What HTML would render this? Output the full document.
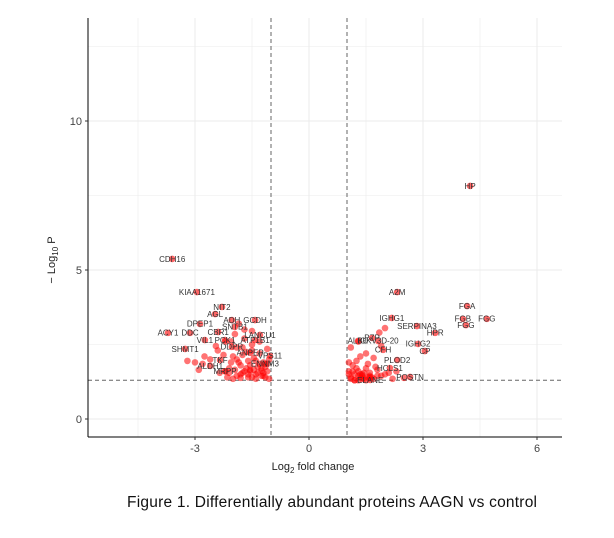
<!DOCTYPE html>
<html><head><meta charset="utf-8"><style>
body{margin:0;background:#fff;width:614px;height:538px;overflow:hidden;font-family:"Liberation Sans",sans-serif}
svg{position:absolute;left:0;top:0}
</style></head><body>
<svg id="chart" width="614" height="538" viewBox="0 0 614 538">
<g id="grid"></g>
<g id="pts"></g>
<g id="lbls"></g>
<g id="axes"></g>
<text x="313" y="470" font-size="11" text-anchor="middle" fill="#222">Log<tspan font-size="8" dy="3">2</tspan><tspan dy="-3"> fold change</tspan></text>
<text transform="translate(55,260) rotate(-90)" font-size="11" text-anchor="middle" fill="#222">− Log<tspan font-size="8" dy="3">10</tspan><tspan dy="-3"> P</tspan></text>
<text x="127" y="507" font-size="15.5" textLength="410" fill="#111">Figure 1. Differentially abundant proteins AAGN vs control</text>
</svg>
<script>
const xTicks=[-3,0,3,6];
const yTicks=[0,5,10];
const labelNames=["CDH16","KIAA1671","NIT2","AGL","ADH","GCDH","DPEP1","SNTB1","ACY1","DDC","CBR1","LANCU1","VIL1","PCK1","ATP1B1","SHMT1","DDPR","ANPEP","VPS11","TKF","ALDH1","ENNM3","MRPP","HP","A2M","FGA","FGB","FGG","FGG","IGHG1","SERPINA3","HPR","PZP","IGKV3D-20","ALBU","IGHG2","CP","CFH","PLOD2","HCLS1","POSTN","ELANE"];
const labelX=[-3.6,-2.95,-2.29,-2.47,-2.03,-1.42,-2.87,-1.95,-3.71,-3.13,-2.39,-1.29,-2.74,-2.21,-1.42,-3.26,-2.03,-1.55,-1.03,-2.34,-2.6,-1.16,-2.21,4.24,2.32,4.16,4.05,4.68,4.13,2.18,2.84,3.32,1.66,1.82,1.29,2.87,3.05,1.95,2.32,2.13,2.66,1.61];
const labelY=[5.37,4.26,3.76,3.52,3.32,3.32,3.19,3.09,2.89,2.89,2.92,2.82,2.65,2.65,2.65,2.35,2.42,2.22,2.12,1.98,1.78,1.85,1.6,7.82,4.26,3.79,3.36,3.36,3.15,3.39,3.12,2.89,2.72,2.62,2.62,2.52,2.28,2.32,1.98,1.71,1.41,1.31];
const extraX=[-3.0,-2.75,-2.4,-2.2,-2.6,-2.9,-2.35,-1.9,-1.7,-1.5,-1.3,-1.2,-1.1,-1.8,-1.6,-2.0,-2.1,-1.4,-1.25,-1.15,-1.9,-1.75,-1.55,-1.35,-1.65,-1.45,-2.25,-2.45,-1.95,-1.05,-1.1,-1.3,-1.5,-1.7,-1.85,-2.05,-1.6,-1.4,-1.2,-2.8,-3.2,-2.15,-1.8,-1.55,-1.25,
-2.1,-1.95,-1.8,-1.65,-1.5,-1.35,-1.2,-1.1,-2.0,-1.85,-1.7,-1.55,-1.4,-1.25,-1.15,-1.9,-1.75,-1.6,-1.45,-1.3,-2.2,-2.05,-1.05,-1.5,-1.75,
1.1,1.2,1.3,1.4,1.5,1.6,1.7,1.8,1.9,2.0,1.15,1.25,1.35,1.45,1.55,1.65,1.75,1.05,1.1,1.3,1.5,1.7,1.9,2.1,2.3,1.2,1.4,1.6,1.8,2.2,2.5,1.35,1.05,1.85,2.0,
1.1,1.2,1.3,1.4,1.5,1.15,1.25,1.35,1.45,1.6,1.05,1.3,1.55];
const extraY=[1.9,2.1,2.3,2.6,2.0,1.65,1.55,2.4,2.7,2.5,2.2,1.9,1.6,1.8,1.95,2.1,1.7,1.5,1.45,1.75,1.45,1.55,1.65,1.75,2.25,2.05,2.15,2.45,2.85,1.35,2.35,2.6,2.95,3.0,3.2,2.6,1.4,1.35,1.55,1.85,1.95,1.4,1.38,1.6,1.62,
1.55,1.65,1.5,1.7,1.4,1.55,1.45,1.85,1.35,1.9,1.6,1.8,1.95,1.7,1.4,2.0,2.15,1.5,1.65,1.85,1.6,1.9,2.0,2.3,2.4,
1.4,1.5,1.6,1.45,1.7,1.55,1.35,1.65,1.45,1.5,1.8,1.95,2.1,1.35,1.85,1.4,1.75,1.6,2.4,2.6,2.2,2.05,2.45,1.55,1.6,1.3,1.5,1.4,1.45,1.35,1.38,1.5,1.9,2.9,3.05,
1.35,1.3,1.45,1.35,1.3,1.6,1.7,1.4,1.55,1.45,1.5,1.3,1.4];
const X=v=>309+38*v, Y=v=>419-29.8*v;
const NS="http://www.w3.org/2000/svg";
function mk(tag,attrs,parent){const e=document.createElementNS(NS,tag);for(const k in attrs)e.setAttribute(k,attrs[k]);parent.appendChild(e);return e;}
const grid=document.getElementById('grid'),pts=document.getElementById('pts'),lbls=document.getElementById('lbls'),axes=document.getElementById('axes');
for(let v=-4.5;v<=6.6;v+=1.5){const l=mk('line',{x1:X(v),x2:X(v),y1:18,y2:437,stroke:'#ebebeb','stroke-width':Number.isInteger(v)?1:0.6},grid);

}
for(let v=0;v<=13.5;v+=2.5){const l=mk('line',{x1:88,x2:562,y1:Y(v),y2:Y(v),stroke:'#ebebeb','stroke-width':v%5==0?1:0.6},grid);

}
[[X(-1),18,X(-1),437],[X(1),18,X(1),437],[88,Y(1.3),562,Y(1.3)]].forEach(a=>{const l=mk('line',{x1:a[0],y1:a[1],x2:a[2],y2:a[3],stroke:'#666','stroke-width':1,'stroke-dasharray':'4,3'},grid);

});
for(let i=0;i<extraX.length;i++){const c=mk('circle',{cx:X(extraX[i]),cy:Y(extraY[i]),r:3.3,fill:'#f00','fill-opacity':0.55},pts);

}
for(let i=0;i<labelX.length;i++){const c=mk('circle',{cx:X(labelX[i]),cy:Y(labelY[i]),r:3.3,fill:'#f00','fill-opacity':0.6},pts);


const t=mk('text',{x:X(labelX[i]),y:Y(labelY[i])+2.8,'font-size':8,'text-anchor':'middle',fill:'#333'},lbls);t.textContent=labelNames[i];

}
const ya=mk('line',{x1:88,x2:88,y1:18,y2:437,stroke:'#000','stroke-width':1},axes);


const xa=mk('line',{x1:88,x2:562,y1:437,y2:437,stroke:'#000','stroke-width':1},axes);


xTicks.forEach(v=>{mk('line',{x1:X(v),x2:X(v),y1:437,y2:440,stroke:'#333'},axes);const t=mk('text',{x:X(v),y:452,'font-size':11,'text-anchor':'middle',fill:'#444'},axes);t.textContent=v;

});
yTicks.forEach(v=>{mk('line',{x1:85,x2:88,y1:Y(v),y2:Y(v),stroke:'#333'},axes);const t=mk('text',{x:82,y:Y(v)+4,'font-size':11,'text-anchor':'end',fill:'#444'},axes);t.textContent=v;

});
</script>
</body></html>
